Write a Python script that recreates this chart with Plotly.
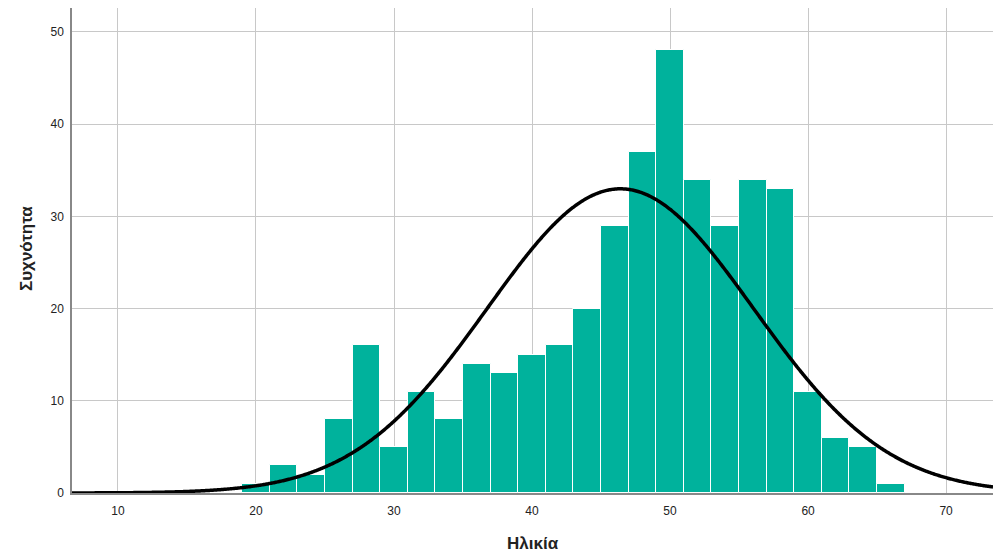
import numpy as np
import plotly.graph_objects as go

bin_starts = [19, 21, 23, 25, 27, 29, 31, 33, 35, 37, 39, 41, 43, 45, 47, 49, 51, 53, 55, 57, 59, 61, 63, 65]
counts = [1, 3, 2, 8, 16, 5, 11, 8, 14, 13, 15, 16, 20, 29, 37, 48, 34, 29, 34, 33, 11, 6, 5, 1]
bin_width = 2
curve_mean = 46.4
curve_sd = 9.65
x_ticks = [10, 20, 30, 40, 50, 60, 70]
y_ticks = [0, 10, 20, 30, 40, 50]
x_title = "Ηλικία"
y_title = "Συχνότητα"

n_total = sum(counts)
centers = [s + bin_width / 2 for s in bin_starts]

xr = [6.67, 73.4]
xc = np.linspace(xr[0], xr[1], 1000)
yc = n_total * bin_width / (curve_sd * np.sqrt(2 * np.pi)) * np.exp(-((xc - curve_mean) ** 2) / (2 * curve_sd ** 2))

FONT = "Liberation Sans, Arial, sans-serif"
W, H = 1000, 558
L, R, T, B = 72, 7, 8, 65
PW, PH = W - L - R, H - T - B

fig = go.Figure()
fig.add_trace(go.Bar(
    x=centers, y=counts, width=bin_width,
    marker=dict(color="#00B29C", line=dict(color="white", width=1)),
    hoverinfo="x+y", showlegend=False,
))
fig.add_trace(go.Scatter(
    x=xc, y=yc, mode="lines", line=dict(color="black", width=3.5, simplify=False),
    showlegend=False, hoverinfo="skip",
))

fig.update_layout(
    width=W, height=H,
    margin=dict(l=L, r=R, t=T, b=B),
    plot_bgcolor="white", paper_bgcolor="white",
    font=dict(family=FONT, color="#222"),
    bargap=0,
    xaxis=dict(
        range=xr, tickvals=x_ticks, showgrid=True, gridcolor="#c8c8c8", gridwidth=1,
        showline=True, linecolor="#888", linewidth=1.5, zeroline=False,
        ticks="", tickfont=dict(size=12), ticklabelstandoff=6, automargin=False,
    ),
    yaxis=dict(
        range=[0, 52.6], tickvals=y_ticks, showgrid=True, gridcolor="#c8c8c8", gridwidth=1,
        showline=True, linecolor="#888", linewidth=1.5, zeroline=False,
        ticks="", tickfont=dict(size=12), ticklabelstandoff=4, automargin=False,
    ),
)
fig.add_annotation(text="<b>" + x_title + "</b>", xref="paper", yref="paper",
                   x=(533 - L) / PW, y=-(543 - (H - B)) / PH,
                   xanchor="center", yanchor="middle", showarrow=False,
                   font=dict(size=17, family=FONT, color="#222"))
fig.add_annotation(text="<b>" + y_title + "</b>", xref="paper", yref="paper",
                   x=-(L - 26) / PW, y=((H - B) - 249) / PH,
                   xanchor="center", yanchor="middle", showarrow=False, textangle=-90,
                   font=dict(size=17, family=FONT, color="#222"))

fig.write_html("out.html", config={"displayModeBar": False},
               post_script="document.body.style.margin='0';document.body.style.overflow='hidden';")
